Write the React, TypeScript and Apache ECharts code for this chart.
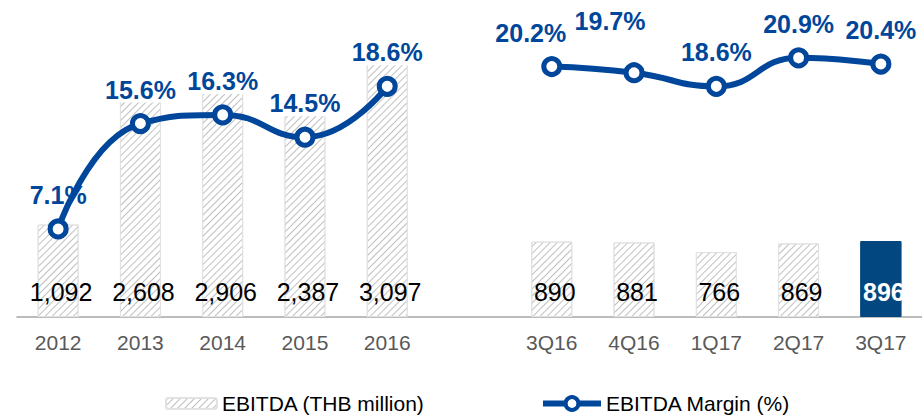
import React, { useEffect, useRef } from "react";
import * as echarts from "echarts";

const categories = ["2012", "2013", "2014", "2015", "2016", "", "3Q16", "4Q16", "1Q17", "2Q17", "3Q17"];
const ebitda = [1092, 2608, 2906, 2387, 3097, null, 890, 881, 766, 869, 896];
const margin = [7.1, 15.6, 16.3, 14.5, 18.6, null, 20.2, 19.7, 18.6, 20.9, 20.4];
const barName = "EBITDA (THB million)";
const lineName = "EBITDA Margin (%)";

const FONT = "'Liberation Sans', Arial, sans-serif";
const BLUE = "#00469A";
const NAVY = "#02477F";

export default function App() {
  const ref = useRef<HTMLDivElement>(null);
  useEffect(() => {
    if (!ref.current) return;
    const chart = echarts.init(ref.current, undefined, { renderer: "svg" });
    const lastIdx = ebitda.length - 1;
    const labelOffsets: Record<number, number[]> = { 6: [-21, 0], 7: [-24, -18] };
    const hatch = {
      symbol: "rect",
      symbolSize: 1,
      color: "#c0c0c0",
      dashArrayX: [1, 0],
      dashArrayY: [1, 4],
      rotation: -Math.PI / 4,
    };
    const option: any = {
      animation: false,
      textStyle: { fontFamily: FONT },
      grid: { left: 17, right: -4, top: 7, bottom: 99 },
      legend: [
        {
          data: [barName],
          left: 160,
          top: 388,
          itemWidth: 51,
          itemHeight: 11,
          textStyle: { fontSize: 21, color: "#000", fontFamily: FONT },
        },
        {
          data: [lineName],
          left: 535,
          top: 388,
          itemWidth: 58,
          itemHeight: 16,
          lineStyle: { width: 6, color: BLUE },
          itemStyle: { color: "#fff", borderColor: BLUE, borderWidth: 4 },
          textStyle: { fontSize: 21, color: "#000", fontFamily: FONT },
        },
      ],
      xAxis: {
        type: "category",
        data: categories,
        axisLine: { lineStyle: { color: "#A6A6A6", width: 1.5 } },
        axisTick: { length: 6, lineStyle: { color: "#A6A6A6" } },
        axisLabel: { fontSize: 21, color: "#595959", margin: 15, fontFamily: FONT },
      },
      yAxis: [
        { type: "value", min: 0, max: 3660, show: false },
        { type: "value", min: 0, max: 25, show: false },
      ],
      series: [
        {
          name: barName,
          type: "bar",
          z: 1,
          barWidth: 41,
          data: ebitda.map((v, i) =>
            i === lastIdx
              ? {
                  value: v,
                  itemStyle: { color: NAVY, borderColor: NAVY, decal: { symbol: "none" } },
                  label: { color: "#fff", fontWeight: "bold" },
                }
              : v
          ),
          itemStyle: { color: "#fff", borderColor: "#e2e2e2", borderWidth: 1, decal: hatch },
          label: {
            show: true,
            position: "insideBottom",
            distance: 12,
            offset: [3, 0],
            fontSize: 25,
            lineHeight: 26,
            color: "#000",
            fontFamily: FONT,
            formatter: (p: any) => p.value.toLocaleString("en-US"),
          },
        },
        {
          name: "marginLabels",
          type: "scatter",
          yAxisIndex: 1,
          z: 2,
          symbolSize: 16,
          itemStyle: { color: "rgba(0,0,0,0)", opacity: 1 },
          data: margin.map((v, i) =>
            labelOffsets[i] ? { value: v, label: { offset: labelOffsets[i] } } : v
          ),
          label: {
            show: true,
            position: "top",
            distance: 13,
            fontSize: 25,
            lineHeight: 26,
            fontWeight: "bold",
            color: BLUE,
            opacity: 1,
            fontFamily: FONT,
            backgroundColor: "#fff",
            padding: [0, 2],
            formatter: (p: any) => p.value.toFixed(1) + "%",
          },
        },
        {
          name: lineName,
          type: "line",
          yAxisIndex: 1,
          z: 3,
          smooth: 0.5,
          connectNulls: false,
          symbol: "circle",
          symbolSize: 16,
          showAllSymbol: true,
          data: margin,
          lineStyle: { color: BLUE, width: 6 },
          itemStyle: { color: "#fff", borderColor: BLUE, borderWidth: 5 },
        },
      ],
    };
    chart.setOption(option);
    return () => chart.dispose();
  }, []);
  return (
    <div
      ref={ref}
      style={{ position: "fixed", left: 0, top: 0, width: 922, height: 416, background: "#fff" }}
    />
  );
}
